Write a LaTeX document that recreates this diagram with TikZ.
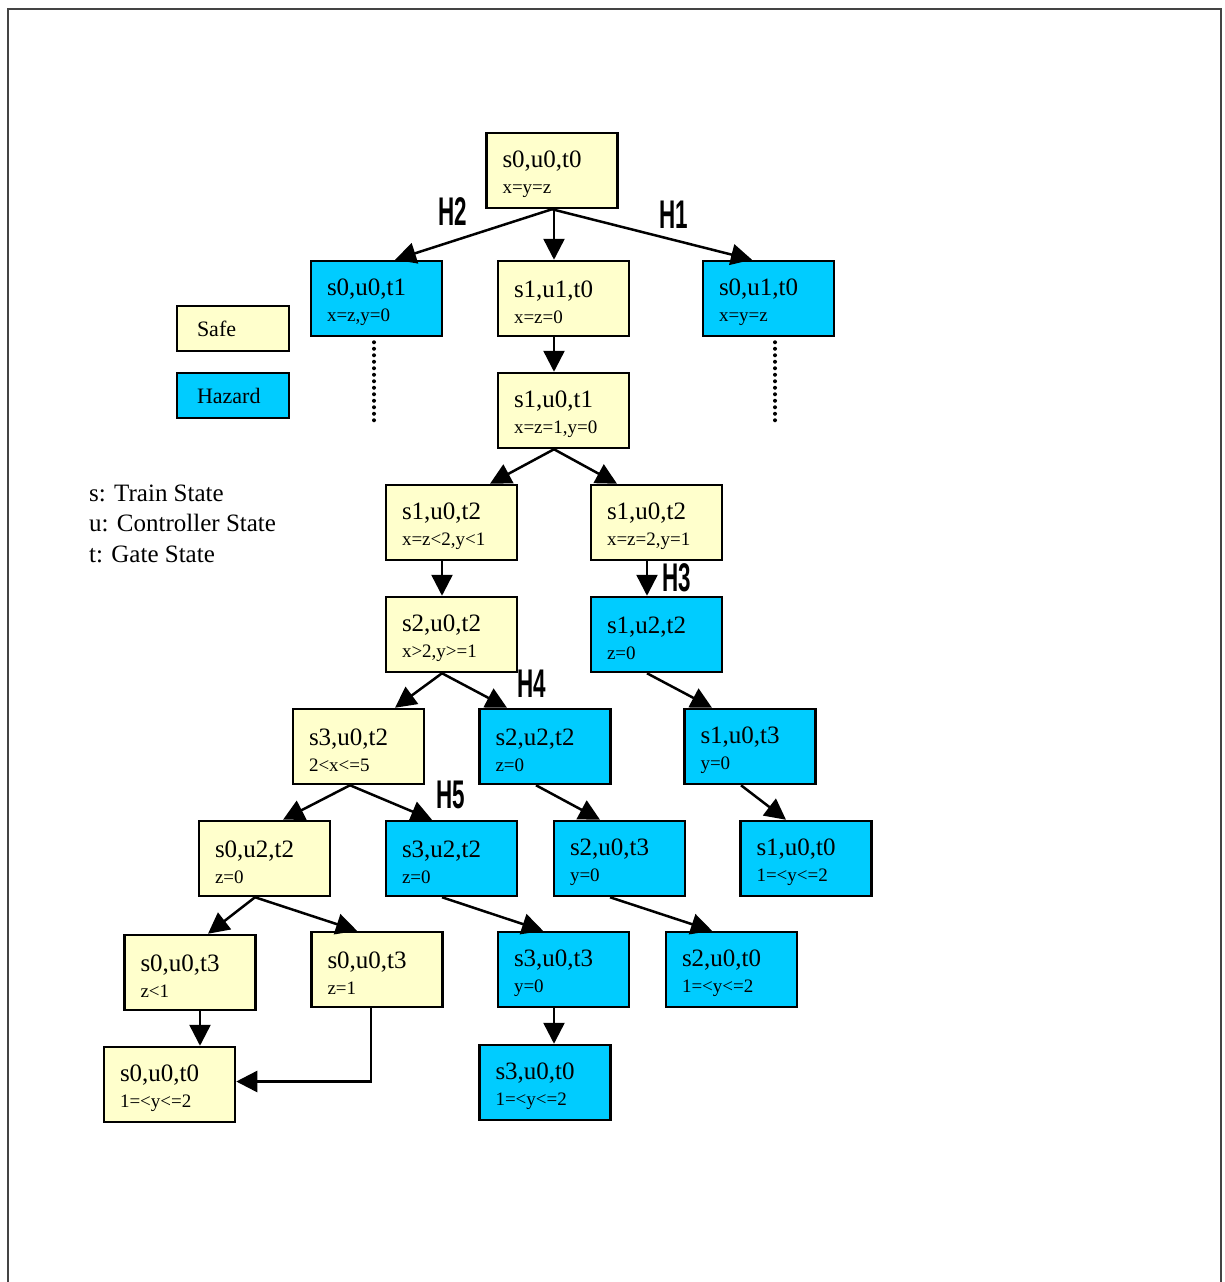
\documentclass[tikz,border=0pt]{standalone}
\usepackage{fontspec}
\setmainfont{Liberation Serif}
\setsansfont{Liberation Sans}
\usetikzlibrary{arrows.meta,calc}
\definecolor{safeyellow}{HTML}{FFFFCC}
\definecolor{hazblue}{HTML}{00CCFF}
\definecolor{framegray}{HTML}{444444}
\newcommand{\sm}[1]{{\fontsize{19}{20}\selectfont #1}}
\newcommand{\hl}[1]{\scalebox{0.56}[1]{#1}}
\tikzset{
  st/.style={draw=black, line width=2.5pt, minimum width=131pt, minimum height=75pt,
    text width=99pt, align=left, inner sep=0pt, font=\fontsize{25}{25.5}\selectfont,
    execute at begin node={\rule{0pt}{24pt}}},
  safe/.style={st, fill=safeyellow},
  haz/.style={st, fill=hazblue},
  leg/.style={draw=black, line width=2.5pt, minimum width=112pt, minimum height=45pt,
    text width=72pt, align=left, inner sep=0pt, font=\fontsize{22}{24}\selectfont},
  arr/.style={line width=2.5pt, -{Triangle[length=21pt,width=21pt]}},
  hlab/.style={font=\sffamily\bfseries\fontsize{40}{40}\selectfont, inner sep=0pt},
  keytext/.style={anchor=west, inner sep=0pt, font=\fontsize{25}{27}\selectfont},
  dots/.style={line width=4pt, dash pattern=on 0pt off 6.5pt, line cap=round}
}
\begin{document}
\begin{tikzpicture}[x=1pt,y=-1pt]
\useasboundingbox (0,0) rectangle (1224,1282);
\draw[framegray, line width=2pt] (8,1290) -- (8,9) -- (1221,9) -- (1221,1290);

% nodes
\node[safe] (n0) at (552,170.5) {s0,u0,t0\\\sm{x=y=z}};
\node[haz]  (a1) at (376.5,298.5) {s0,u0,t1\\\sm{x=z,y=0}};
\node[safe] (a2) at (563.5,298.5) {s1,u1,t0\\\sm{x=z=0}};
\node[haz]  (a3) at (768.5,298.5) {s0,u1,t0\\\sm{x=y=z}};
\node[leg, fill=safeyellow] (lsafe) at (233,328.5) {Safe};
\node[leg, fill=hazblue] (lhaz) at (233,395.5) {Hazard};
\node[safe] (b)  at (563.5,410.5) {s1,u0,t1\\\sm{x=z=1,y=0}};
\node[safe] (c1) at (451.5,522.5) {s1,u0,t2\\\sm{x=z<2,y<1}};
\node[safe] (c2) at (656.5,522.5) {s1,u0,t2\\\sm{x=z=2,y=1}};
\node[safe] (d1) at (451.5,634.5) {s2,u0,t2\\\sm{x>2,y>=1}};
\node[haz]  (d2) at (656.5,634.5) {s1,u2,t2\\\sm{z=0}};
\node[safe] (e1) at (358.5,746.5) {s3,u0,t2\\\sm{2<x<=5}};
\node[haz]  (e2) at (545,746.5) {s2,u2,t2\\\sm{z=0}};
\node[haz]  (e3) at (750,746.5) {s1,u0,t3\\\sm{y=0}};
\node[safe] (f1) at (264.5,858.5) {s0,u2,t2\\\sm{z=0}};
\node[haz]  (f2) at (451.5,858.5) {s3,u2,t2\\\sm{z=0}};
\node[haz]  (f3) at (619.5,858.5) {s2,u0,t3\\\sm{y=0}};
\node[haz]  (f4) at (806,858.5) {s1,u0,t0\\\sm{1=<y<=2}};
\node[safe] (g1) at (190,972.5) {s0,u0,t3\\\sm{z<1}};
\node[safe] (g2) at (377,969.5) {s0,u0,t3\\\sm{z=1}};
\node[haz]  (g3) at (563.5,969.5) {s3,u0,t3\\\sm{y=0}};
\node[haz]  (g4) at (731.5,969.5) {s2,u0,t0\\\sm{1=<y<=2}};
\node[safe] (h1) at (169.5,1084.5) {s0,u0,t0\\\sm{1=<y<=2}};
\node[haz]  (h2) at (545,1082.5) {s3,u0,t0\\\sm{1=<y<=2}};

% key text
\node[keytext] (k1) at (89,493) {s: Train State};
\node[keytext] (k2) at (89,523) {u: Controller State};
\node[keytext] (k3) at (89,554) {t: Gate State};

% hazard labels
\node[hlab] (H2) at (453,212) {\hl{H2}};
\node[hlab] (H1) at (674,215) {\hl{H1}};
\node[hlab] (H3) at (677,578) {\hl{H3}};
\node[hlab] (H4) at (532,684) {\hl{H4}};
\node[hlab] (H5) at (451,795) {\hl{H5}};

% edges
\draw[arr] (n0.south) -- ($(a1.north)+(18.5,0)$);
\draw[arr] ($(n0.south)+(2,0)$) -- ($(a2.north)+(-9.5,0)$);
\draw[arr] (n0.south) -- ($(a3.north)+(-16.5,0)$);
\draw[arr] ($(a2.south)+(-9.5,0)$) -- ($(b.north)+(-9.5,0)$);
\draw[arr] ($(b.south)+(-9.5,0)$) -- ($(c1.north)+(38.5,0)$);
\draw[arr] ($(b.south)+(-9.5,0)$) -- ($(c2.north)+(-39.5,0)$);
\draw[arr] ($(c1.south)+(-9.5,0)$) -- ($(d1.north)+(-9.5,0)$);
\draw[arr] ($(c2.south)+(-9.5,0)$) -- ($(d2.north)+(-9.5,0)$);
\draw[arr] ($(d1.south)+(-9.5,0)$) -- ($(e1.north)+(36.5,0)$);
\draw[arr] ($(d1.south)+(-9.5,0)$) -- ($(e2.north)+(-38,0)$);
\draw[arr] ($(d2.south)+(-9.5,0)$) -- ($(e3.north)+(-38,0)$);
\draw[arr] ($(e1.south)+(-8.5,0)$) -- ($(f1.north)+(18.5,0)$);
\draw[arr] ($(e1.south)+(-8.5,0)$) -- ($(f2.north)+(-19.5,0)$);
\draw[arr] ($(e2.south)+(-9,0)$) -- ($(f3.north)+(-19.5,0)$);
\draw[arr] ($(e3.south)+(-9,0)$) -- ($(f4.north)+(-20,0)$);
\draw[arr] ($(f1.south)+(-9.5,0)$) -- ($(g1.north)+(18,0)$);
\draw[arr] ($(f1.south)+(-9.5,0)$) -- ($(g2.north)+(-20,0)$);
\draw[arr] ($(f2.south)+(-9.5,0)$) -- ($(g3.north)+(-20.5,0)$);
\draw[arr] ($(f3.south)+(-9.5,0)$) -- ($(g4.north)+(-19.5,0)$);
\draw[arr] ($(g1.south)+(10,0)$) -- ($(h1.north)+(30.5,0)$);
\draw[arr] ($(g2.south)+(-6,0)$) |- ($(h1.east)+(0,-3)$);
\draw[arr] ($(g3.south)+(-9.5,0)$) -- ($(h2.north)+(9,0)$);

% dotted continuations
\coordinate (da1) at (374,425);
\coordinate (da3) at (775,425);
\draw[dots] ($(a1.south)+(-2.5,5)$) -- (da1);
\draw[dots] ($(a3.south)+(6.5,5)$) -- (da3);
\end{tikzpicture}
\end{document}
